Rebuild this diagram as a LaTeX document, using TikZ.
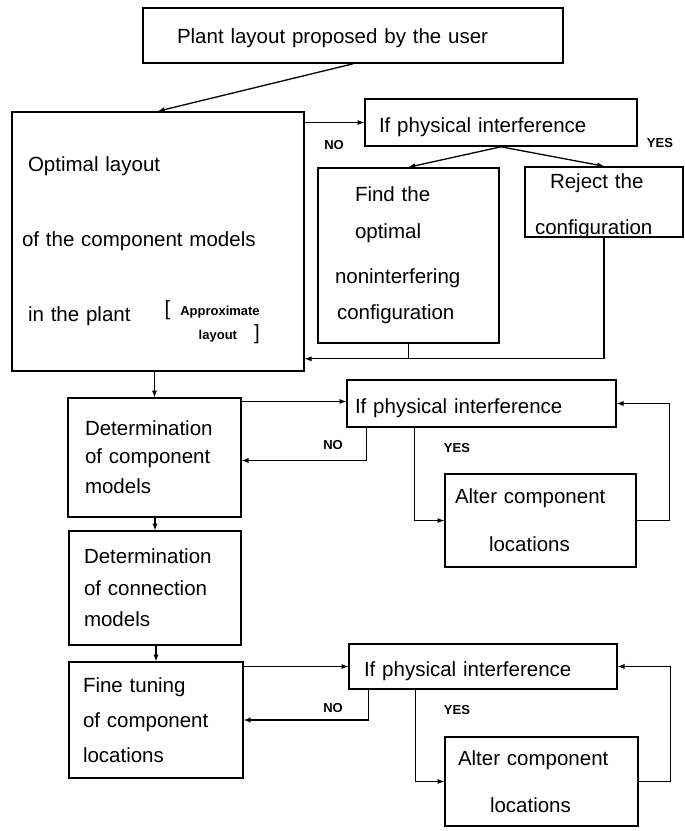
\documentclass[tikz,border=0pt]{standalone}
\usepackage{fontspec}
\setmainfont{Liberation Sans}
\usetikzlibrary{positioning,arrows}
\tikzstyle{block}=[draw,line width=1.6pt,align=left,inner ysep=0pt,font=\fontsize{20.5}{24}\selectfont]
\tikzstyle{test}=[block,text height=24pt]
\tikzstyle{lbl}=[inner sep=0pt,font=\fontsize{13}{15}\selectfont\bfseries]
\newcommand{\newBlock}[4]{\node[block,#3](#1) at (#4){#2};}
\newcommand{\newTest}[4]{\node[test,#3](#1) at (#4){#2};}
\newcommand{\newLabel}[3]{\node[lbl](#1) at (#3){#2};}
\newcommand{\smalltxt}{\fontsize{13}{24}\selectfont\bfseries}

\begin{document}
\begin{tikzpicture}[x=1pt,y=-1pt,
    >=latex,line width=1.3pt
    ]
    \useasboundingbox (0,0) rectangle (685,831);
    \newBlock{plant}{Plant layout proposed by the user}{text width=352pt,inner xsep=34pt,minimum height=55pt,text height=21pt}{353,35.5}
    \newBlock{optimal}{\hspace{6pt}Optimal layout\\[51pt]of the component models\\[51pt]\hspace{6pt}in the plant\hspace{34pt}\smash{\raisebox{6pt}{\begin{tabular}[t]{@{}r@{}}[\hspace{10pt}{\smalltxt Approximate}\\{\smalltxt layout}\hspace{17pt}]\end{tabular}}}}{text width=272pt,inner xsep=10pt,minimum height=259pt}{158,241.5}
    \newTest{if1}{If physical interference}{text width=244pt,inner xsep=14pt,minimum height=47pt}{501,122.5}
    \newBlock{find}{\hspace{20pt}Find the\\[13pt]\hspace{20pt}optimal\\[21pt]noninterfering\\[12pt]\hspace{2pt}configuration}{text width=147pt,inner xsep=17pt,minimum height=175pt}{408.5,255.5}
    \newBlock{reject}{\rule{0pt}{23pt}\hspace{15pt}Reject the\\[22pt]configuration}{text width=138pt,inner xsep=10pt,inner ysep=-1.7pt,minimum height=70pt}{604,202}
    \newBlock{det1}{Determination\\[4pt]of component\\[6pt]models}{text width=139pt,inner xsep=17pt,minimum height=119pt}{154.5,457.5}
    \newBlock{det2}{Determination\\[8pt]of connection\\[7pt]models}{text width=142pt,inner xsep=15pt,minimum height=114pt}{155,588}
    \newBlock{fine}{Fine tuning\\[11pt]of component\\[11pt]locations}{text width=146pt,inner xsep=14pt,minimum height=116pt}{156,720}
    \newTest{if2}{If physical interference}{text width=253pt,inner xsep=8pt,minimum height=47pt}{481.5,403.5}
    \newBlock{alter1}{Alter component\\[24pt]\hspace{34pt}locations}{text width=171pt,inner xsep=10pt,minimum height=93pt}{540.5,520.5}
    \newTest{if3}{If physical interference}{text width=238pt,inner xsep=15pt,minimum height=45pt}{483,666.5}
    \newBlock{alter2}{Alter component\\[23pt]\hspace{32pt}locations}{text width=167pt,inner xsep=13pt,minimum height=89pt}{541.5,781.5}
    \newLabel{no1}{NO}{334,145}
    \newLabel{yes1}{YES}{660,143}
    \newLabel{no2}{NO}{333,445}
    \newLabel{yes2}{YES}{457,448}
    \newLabel{no3}{NO}{333,708}
    \newLabel{yes3}{YES}{457,710}
    % first loop
    \draw[->] (plant.south) -- (optimal.north);
    \draw[->] (optimal.east |- if1.west) -- (if1.west);
    \draw[->] (if1.south) -- (find.north);
    \draw[->] (if1.south) -- (reject.north);
    \path (optimal.south east) ++(0,-13) coordinate (back1);
    \draw (find.south) -- (find.south |- back1);
    \draw[->] (reject.south) |- (back1);
    \draw[->] (det1.north |- optimal.south) -- (det1.north);
    % second loop
    \draw[->] ([yshift=2pt]if2.west -| det1.east) -- ([yshift=2pt]if2.west);
    \draw[->] ([xshift=20pt]if2.south west) |- ([yshift=-3pt]det1.east);
    \draw[->] ([xshift=68pt]if2.south west) |- (alter1.west);
    \draw[->] (alter1.east) -- ++(33,0) |- (if2.east);
    \draw[->] (det2.north |- det1.south) -- (det2.north);
    \draw[->] (fine.north |- det2.south) -- (fine.north);
    % third loop
    \draw[->] (fine.east |- if3.west) -- (if3.west);
    \draw[->] ([xshift=20pt]if3.south west) |- (fine.east);
    \draw[->] ([xshift=67pt]if3.south west) |- (alter2.west);
    \draw[->] (alter2.east) -- ++(32,0) |- (if3.east);
\end{tikzpicture}
\end{document}
